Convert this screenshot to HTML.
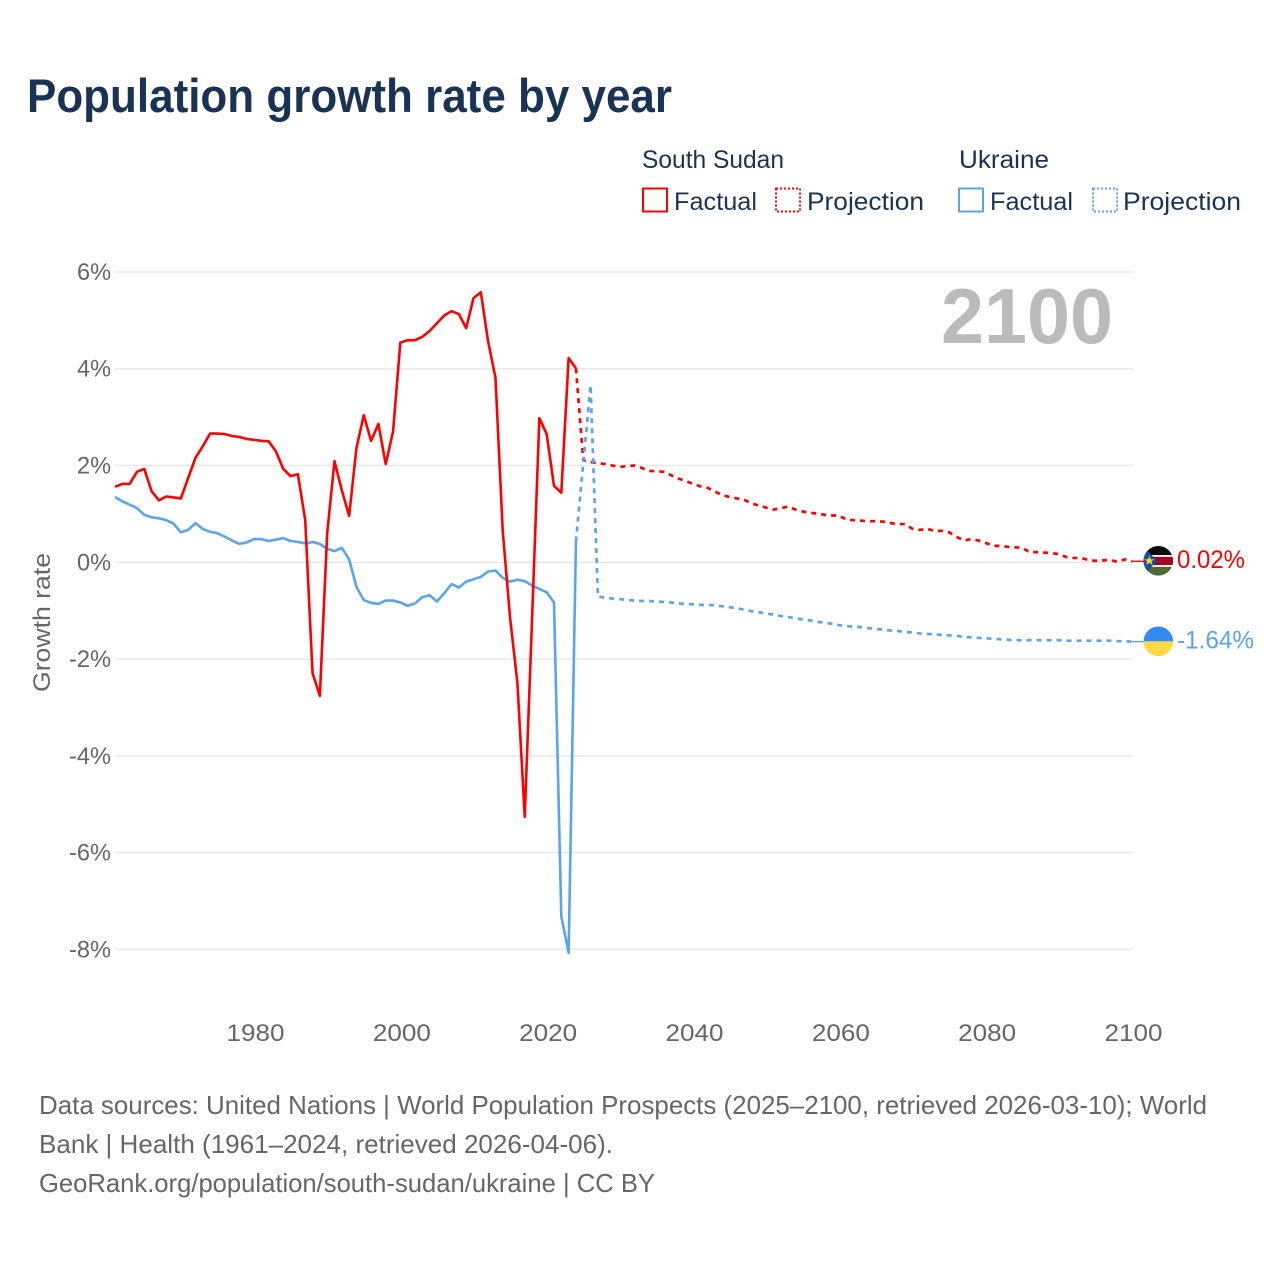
<!DOCTYPE html>
<html lang="en">
<head>
<meta charset="utf-8">
<title>Population growth rate by year</title>
<style>
html,body{margin:0;padding:0;background:#fff;}
svg{display:block;font-family:"Liberation Sans",sans-serif;}
</style>
</head>
<body>
<svg id="chart" width="1280" height="1280" viewBox="0 0 1280 1280" xmlns="http://www.w3.org/2000/svg">
<defs>
<clipPath id="flag-clip-a"><circle cx="0" cy="0" r="14.8"/></clipPath>
<clipPath id="flag-clip-b"><circle cx="0" cy="0" r="14.8"/></clipPath>
</defs>
<rect width="1280" height="1280" fill="#fff"/>
<text x="27" y="112" font-size="47" font-weight="bold" fill="#1a3353" textLength="645" lengthAdjust="spacingAndGlyphs">Population growth rate by year</text>

<g font-size="25" fill="#1a3353">
<text x="642" y="168" textLength="142" lengthAdjust="spacingAndGlyphs">South Sudan</text>
<text x="959" y="168" textLength="90" lengthAdjust="spacingAndGlyphs">Ukraine</text>
<rect x="643" y="188.5" width="24" height="23" fill="none" stroke="#ff0000" stroke-width="2"/>
<text x="674" y="210" textLength="83" lengthAdjust="spacingAndGlyphs">Factual</text>
<rect x="776" y="188.5" width="24" height="23" fill="none" stroke="#ff0000" stroke-width="2" stroke-dasharray="2 2"/>
<text x="807" y="210" textLength="117" lengthAdjust="spacingAndGlyphs">Projection</text>
<rect x="959" y="188.5" width="24" height="23" fill="none" stroke="#5ba4ec" stroke-width="2"/>
<text x="990" y="210" textLength="83" lengthAdjust="spacingAndGlyphs">Factual</text>
<rect x="1093" y="188.5" width="24" height="23" fill="none" stroke="#5ba4ec" stroke-width="2" stroke-dasharray="2 2"/>
<text x="1123" y="210" textLength="118" lengthAdjust="spacingAndGlyphs">Projection</text>
</g>

<g id="grid"></g>
<g id="yticks"></g>
<g id="xticks"></g>
<text transform="translate(50,692) rotate(-90)" font-size="24" fill="#666" textLength="139" lengthAdjust="spacingAndGlyphs">Growth rate</text>
<text x="941" y="343" font-size="78" font-weight="bold" fill="#bbbbbb" textLength="172" lengthAdjust="spacingAndGlyphs">2100</text>
<g id="series"></g>

<g id="flag-ss">
<g clip-path="url(#flag-clip-a)">
<rect x="-16" y="-16" width="32" height="11.5" fill="#0a0a0a"/>
<rect x="-16" y="-4.5" width="32" height="9.5" fill="#a50020"/>
<rect x="-16" y="-5.8" width="32" height="1.8" fill="#fff"/>
<rect x="-16" y="4.2" width="32" height="1.8" fill="#fff"/>
<rect x="-16" y="6" width="32" height="10" fill="#4d6b33"/>
<polygon points="-16,-15 -1,0 -16,15" fill="#0f4fa8"/>
<polygon points="-9,-5 -7.6,-1.6 -4,-1.6 -6.8,0.6 -5.8,4 -9,2 -12.2,4 -11.2,0.6 -14,-1.6 -10.4,-1.6" fill="#fcd116"/>
</g>
</g>
<g id="flag-ua">
<g clip-path="url(#flag-clip-b)">
<rect x="-16" y="-16" width="32" height="16" fill="#338af3"/>
<rect x="-16" y="0" width="32" height="16" fill="#ffda44"/>
</g>
</g>
<text id="label-ss" x="1177" font-size="25" fill="#ff0000" textLength="68" lengthAdjust="spacingAndGlyphs"></text>
<text id="label-ua" x="1177" font-size="25" fill="#5ba4ec" textLength="77" lengthAdjust="spacingAndGlyphs"></text>

<g font-size="26" fill="#666">
<text x="39" y="1114" textLength="1168" lengthAdjust="spacingAndGlyphs">Data sources: United Nations | World Population Prospects (2025–2100, retrieved 2026-03-10); World</text>
<text x="39" y="1153" textLength="574" lengthAdjust="spacingAndGlyphs">Bank | Health (1961–2024, retrieved 2026-04-06).</text>
<text x="39" y="1192" textLength="616" lengthAdjust="spacingAndGlyphs">GeoRank.org/population/south-sudan/ukraine | CC BY</text>
</g>
</svg>
<script>
var factualStartYear = 1961;
var projectionStartYear = 2025;
var yTickValues = [6, 4, 2, 0, -2, -4, -6, -8];
var yTickLabels = ["6%", "4%", "2%", "0%", "-2%", "-4%", "-6%", "-8%"];
var xTickYears = [1980, 2000, 2020, 2040, 2060, 2080, 2100];
var southSudanFactual = [
1.56,1.62,1.62,1.87,1.93,1.47,1.28,1.36,1.34,1.32,
1.74,2.16,2.40,2.66,2.66,2.65,2.61,2.59,2.55,2.53,
2.51,2.50,2.29,1.93,1.78,1.82,0.87,-2.29,-2.76,0.60,
2.09,1.49,0.96,2.36,3.04,2.51,2.86,2.03,2.70,4.54,
4.59,4.59,4.66,4.78,4.94,5.10,5.19,5.13,4.84,5.46,
5.58,4.56,3.82,0.63,-1.15,-2.49,-5.26,-1.19,2.98,2.65,
1.58,1.44,4.22,4.01];
var ukraineFactual = [
1.35,1.26,1.19,1.12,0.98,0.93,0.91,0.87,0.80,0.62,
0.67,0.81,0.69,0.63,0.60,0.53,0.45,0.38,0.41,0.48,
0.48,0.44,0.47,0.50,0.44,0.42,0.39,0.42,0.38,0.28,
0.23,0.30,0.06,-0.51,-0.78,-0.84,-0.86,-0.79,-0.79,-0.83,
-0.90,-0.85,-0.72,-0.68,-0.81,-0.64,-0.45,-0.52,-0.40,-0.35,
-0.30,-0.19,-0.17,-0.32,-0.40,-0.36,-0.39,-0.48,-0.55,-0.62,
-0.83,-7.32,-8.07,0.43];
var southSudanProjection = [
2.11,2.07,2.05,2.03,2.00,1.97,1.99,2.00,1.95,1.89,
1.88,1.87,1.80,1.73,1.68,1.62,1.57,1.54,1.46,1.39,
1.35,1.32,1.29,1.22,1.17,1.13,1.09,1.12,1.15,1.09,
1.05,1.02,1.01,0.98,0.97,0.96,0.88,0.87,0.86,0.85,
0.85,0.84,0.81,0.79,0.79,0.69,0.67,0.69,0.65,0.65,
0.62,0.53,0.45,0.48,0.45,0.40,0.34,0.34,0.32,0.31,
0.30,0.21,0.21,0.20,0.19,0.17,0.11,0.09,0.09,0.05,
0.03,0.04,0.05,0.01,0.06,0.02];
var ukraineProjection = [
2.05,3.66,-0.71,-0.73,-0.75,-0.76,-0.78,-0.79,-0.80,-0.80,
-0.81,-0.82,-0.83,-0.85,-0.86,-0.87,-0.88,-0.88,-0.89,-0.91,
-0.93,-0.95,-0.98,-1.01,-1.03,-1.06,-1.08,-1.11,-1.13,-1.16,
-1.18,-1.20,-1.23,-1.25,-1.27,-1.30,-1.32,-1.33,-1.34,-1.36,
-1.38,-1.39,-1.41,-1.42,-1.44,-1.45,-1.47,-1.48,-1.49,-1.50,
-1.51,-1.52,-1.54,-1.55,-1.56,-1.57,-1.58,-1.59,-1.60,-1.61,
-1.61,-1.61,-1.61,-1.61,-1.61,-1.61,-1.62,-1.62,-1.62,-1.62,
-1.62,-1.62,-1.62,-1.63,-1.63,-1.64];

var NS = "http://www.w3.org/2000/svg";
var RED = "#ff0000";
var BLUE = "#5ba4ec";
function xScale(year) { return 115 + (year - 1961) * (1132 - 115) / (2100 - 1961); }
function yScale(v) { return 562.3 - v * 48.39; }
function make(tag, attrs, parent) {
  var el = document.createElementNS(NS, tag);
  for (var k in attrs) { el.setAttribute(k, attrs[k]); }
  parent.appendChild(el);
  return el;
}
function pathFrom(values, startYear, prev) {
  var pts = [];
  if (prev !== undefined) { pts.push([xScale(startYear - 1), yScale(prev)]); }
  values.forEach(function (v, i) { pts.push([xScale(startYear + i), yScale(v)]); });
  return "M" + pts.map(function (p) { return p[0].toFixed(2) + "," + p[1].toFixed(2); }).join("L");
}

var grid = document.getElementById("grid");
var yticks = document.getElementById("yticks");
var xticks = document.getElementById("xticks");
yTickValues.forEach(function (v, i) {
  var ln = make("line", { x1: 115, x2: 1133, y1: yScale(v), y2: yScale(v), stroke: "#e8e8e8", "stroke-width": 1.5 }, grid);
  
  
  var label = yTickLabels[i];
  var w = label.length === 3 ? 42 : 34;
  var t = make("text", { x: 111 - w, y: yScale(v) + 8, "font-size": 24, fill: "#666", textLength: w, lengthAdjust: "spacingAndGlyphs" }, yticks);
  
  
  t.textContent = label;
});
xTickYears.forEach(function (yr) {
  var t = make("text", { x: xScale(yr) + 1.5 - 29, y: 1041, "font-size": 24, fill: "#666", textLength: 58, lengthAdjust: "spacingAndGlyphs" }, xticks);
  
  
  t.textContent = String(yr);
});

var series = document.getElementById("series");
var lineJoin = "round";
var p1 = make("path", { d: pathFrom(southSudanProjection, projectionStartYear, southSudanFactual[southSudanFactual.length - 1]), fill: "none", stroke: RED, "stroke-width": 2.7, "stroke-dasharray": "5 5", "stroke-linejoin": lineJoin }, series);


var p2 = make("path", { d: pathFrom(ukraineProjection, projectionStartYear, ukraineFactual[ukraineFactual.length - 1]), fill: "none", stroke: BLUE, "stroke-width": 2.7, "stroke-dasharray": "5 5", "stroke-linejoin": lineJoin }, series);


var p3 = make("path", { d: pathFrom(ukraineFactual, factualStartYear), fill: "none", stroke: BLUE, "stroke-width": 2.6, "stroke-linejoin": lineJoin }, series);


var p4 = make("path", { d: pathFrom(southSudanFactual, factualStartYear), fill: "none", stroke: RED, "stroke-width": 2.6, "stroke-linejoin": lineJoin }, series);



var lastSS = southSudanProjection[southSudanProjection.length - 1];
var lastUA = ukraineProjection[ukraineProjection.length - 1];
var c1 = make("line", { x1: xScale(2100), x2: 1145, y1: yScale(lastSS), y2: yScale(lastSS), stroke: RED, "stroke-width": 1.4 }, series);


var c2 = make("line", { x1: xScale(2100), x2: 1145, y1: yScale(lastUA), y2: yScale(lastUA), stroke: BLUE, "stroke-width": 1.4 }, series);


document.getElementById("flag-ss").setAttribute("transform", "translate(1158.3," + (yScale(lastSS) - 0.5) + ")");
document.getElementById("flag-ua").setAttribute("transform", "translate(1158.3," + (yScale(lastUA) - 0.3) + ")");
function fmt(v) { return v.toFixed(2) + "%"; }
var lab1 = document.getElementById("label-ss");
lab1.setAttribute("y", yScale(lastSS) + 6.5);
lab1.textContent = fmt(lastSS);
var lab2 = document.getElementById("label-ua");
lab2.setAttribute("y", yScale(lastUA) + 7);
lab2.textContent = fmt(lastUA);
</script>
</body>
</html>
